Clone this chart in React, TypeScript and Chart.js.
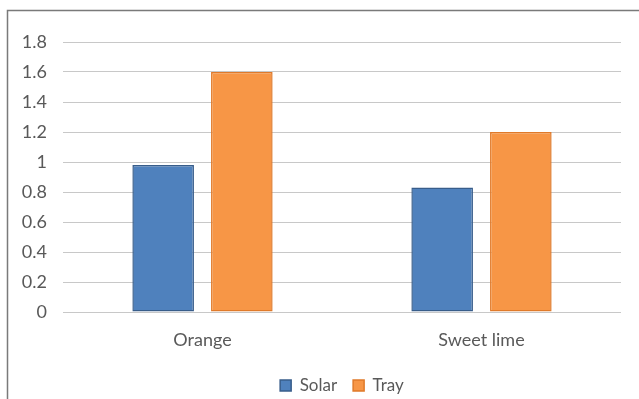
import React, { useEffect, useRef } from "react";
import { Chart, registerables } from "chart.js";

Chart.register(...registerables);

const categories = ["Orange", "Sweet lime"];
const solarValues = [0.98, 0.83];
const trayValues = [1.6, 1.2];
const yTicks = [0, 0.2, 0.4, 0.6, 0.8, 1, 1.2, 1.4, 1.6, 1.8];

const FONT = "Lato, 'Noto Sans', sans-serif";
const TEXT = "#595959";

// Thin grey frame around the chart area, running off the right and bottom edges
const framePlugin = {
  id: "frame",
  beforeDraw(chart: Chart) {
    const ctx = chart.ctx;
    ctx.save();
    ctx.fillStyle = "#ffffff";
    ctx.fillRect(0, 0, chart.width, chart.height);
    ctx.strokeStyle = "#7a7a7a";
    ctx.lineWidth = 1.5;
    ctx.strokeRect(7.5, 10.5, 700, 500);
    ctx.restore();
  },
};

export default function App() {
  const ref = useRef<HTMLCanvasElement>(null);

  useEffect(() => {
    if (!ref.current) return;
    const chart = new Chart(ref.current, {
      type: "bar",
      data: {
        labels: categories,
        datasets: [
          {
            label: "Solar",
            data: solarValues,
            backgroundColor: "#4F81BD",
            borderColor: "#385D8A",
            borderWidth: 1.5,
            borderSkipped: false,
          },
          {
            label: "Tray",
            data: trayValues,
            backgroundColor: "#F79646",
            borderColor: "#E07A2A",
            borderWidth: 1.5,
            borderSkipped: false,
          },
        ],
      },
      options: {
        responsive: false,
        animation: false,
        layout: { padding: { top: 42, right: 18, left: 0, bottom: -5 } },
        datasets: {
          bar: { categoryPercentage: 0.564, barPercentage: 0.783 },
        },
        plugins: {
          legend: {
            position: "bottom",
            fullSize: false,
            labels: {
              boxWidth: 11,
              boxHeight: 11,
              padding: 16,
              color: TEXT,
              font: { family: FONT, size: 17 },
            },
          },
          tooltip: { enabled: false },
        },
        scales: {
          x: {
            grid: { display: false },
            border: { display: false },
            ticks: { color: TEXT, font: { family: FONT, size: 18 }, padding: 9 },
            afterFit(scale: any) {
              scale.height = 49;
            },
          },
          y: {
            min: 0,
            max: 1.8,
            afterBuildTicks(scale: any) {
              scale.ticks = yTicks.map((v) => ({ value: v }));
            },
            grid: { color: "#C8C8C8", lineWidth: 1, drawTicks: false },
            border: { display: false },
            ticks: {
              color: TEXT,
              font: { family: FONT, size: 18 },
              padding: 16,
              callback: (v: any) => String(Math.round(Number(v) * 10) / 10),
            },
            afterFit(scale: any) {
              scale.width = 63;
            },
          },
        },
      },
      plugins: [framePlugin],
    });
    return () => chart.destroy();
  }, []);

  return (
    <div style={{ position: "fixed", left: 0, top: 0, width: 639, height: 399, background: "#fff" }}>
      <canvas ref={ref} width={639} height={399} style={{ display: "block" }} />
    </div>
  );
}
